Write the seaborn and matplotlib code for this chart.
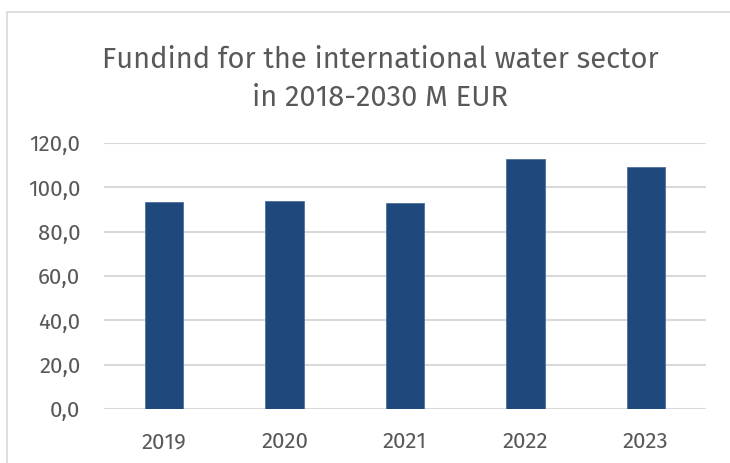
import matplotlib
matplotlib.use("Agg")
import matplotlib.pyplot as plt
import seaborn as sns
import pandas as pd
from matplotlib.lines import Line2D
from matplotlib.ticker import FuncFormatter

years = ["2019", "2020", "2021", "2022", "2023"]
funding = [93.4, 93.7, 92.9, 112.9, 109.0]
title_lines = ["Fundind for the international water sector", "in 2018-2030 M EUR"]

sns.set_theme(style="white")
plt.rcParams['font.family'] = ['Fira Sans', 'DejaVu Sans']

df = pd.DataFrame({"year": years, "value": funding})

fig = plt.figure(figsize=(7.3, 4.63), dpi=100)
ax = fig.add_axes([104/730, 1-409/463, 602/730, 266/463])

sns.barplot(data=df, x="year", y="value", color="#1F497D", width=0.32,
            saturation=1, ax=ax, edgecolor="#4F6F9F", linewidth=0.6)

ax.set_ylim(0, 120)
ax.set_yticks([0, 20, 40, 60, 80, 100, 120])
ax.yaxis.set_major_formatter(FuncFormatter(lambda v, p: f"{v:.1f}".replace(".", ",")))
ax.set_xlabel("")
ax.set_ylabel("")
for s in ax.spines.values():
    s.set_visible(False)
ax.grid(axis="y", color="#D9D9D9", linewidth=1.5)
ax.set_axisbelow(True)
ax.tick_params(axis="both", length=0, labelsize=16, labelcolor="#595959")
ax.tick_params(axis="y", pad=17)
ax.tick_params(axis="x", pad=16)

fig.text(380/730, 1-68/463, title_lines[0], ha="center", va="baseline",
         fontsize=21, color="#595959")
fig.text(380/730, 1-106/463, title_lines[1], ha="center", va="baseline",
         fontsize=21, color="#595959")

border_kw = dict(transform=fig.transFigure, color="#D9D9D9", linewidth=1.2)
fig.lines.append(Line2D([7/730, 7/730], [0, 1-12/463], **border_kw))
fig.lines.append(Line2D([7/730, 1], [1-12/463, 1-12/463], **border_kw))

fig.savefig("out.png", dpi=100)
